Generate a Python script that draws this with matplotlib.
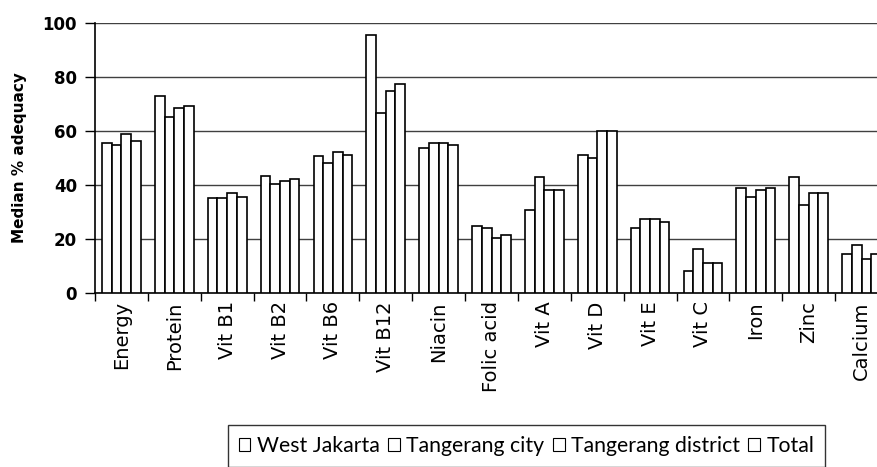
import numpy as np
from matplotlib import pyplot as plt
from matplotlib.patches import Patch

nutrients = ["Energy", "Protein", "Vit B1", "Vit B2", "Vit B6", "Vit B12", "Niacin",
             "Folic acid", "Vit A", "Vit D", "Vit E", "Vit C", "Iron", "Zinc", "Calcium"]
regions = ["West Jakarta", "Tangerang city", "Tangerang district", "Total"]

west_jakarta = [55.7, 73.0, 35.1, 43.5, 50.6, 95.4, 53.8, 24.8, 30.6, 51.2, 24.2, 8.1, 39.0, 42.8, 14.6]
tangerang_city = [54.9, 65.3, 35.1, 40.2, 48.0, 66.5, 55.7, 24.1, 42.8, 49.9, 27.4, 16.4, 35.7, 32.6, 17.7]
tangerang_district = [58.8, 68.4, 37.0, 41.6, 52.3, 74.9, 55.7, 20.2, 38.3, 60.1, 27.4, 11.2, 38.3, 37.0, 12.7]
total = [56.3, 69.1, 35.7, 42.1, 51.2, 77.4, 54.9, 21.6, 38.3, 60.1, 26.2, 11.2, 39.0, 37.0, 14.6]


def main():
  plt.rcParams["font.family"] = ["DejaVu Sans"]
  fig = plt.figure(figsize=(8.78, 4.67), dpi=100)
  # axes runs a little past the right edge, like the original (Calcium is cut off)
  ax = fig.add_axes([95 / 878, 1 - 293 / 467, 793 / 878, 270 / 467])

  series = [west_jakarta, tangerang_city, tangerang_district, total]
  x = np.arange(len(nutrients))
  w = 0.183
  for i, vals in enumerate(series):
    ax.bar(x + (i - 1.5) * w, vals, width=w, color="white",
           edgecolor="black", linewidth=1.2, zorder=3)

  ax.set_xlim(-0.5, len(nutrients) - 0.5)
  ax.set_ylim(0, 100)
  ax.set_yticks([0, 20, 40, 60, 80, 100])
  ax.yaxis.grid(True, color="#404040", linewidth=1.0, zorder=0)
  ax.set_axisbelow(True)

  ax.set_xticks(x)
  ax.set_xticklabels(nutrients, rotation=90, fontsize=14, family="DejaVu Sans")
  ax.set_xticks(np.arange(-0.5, len(nutrients), 1.0), minor=True)
  ax.tick_params(axis="x", which="major", length=0, pad=6)
  ax.tick_params(axis="x", which="minor", length=6, width=1, direction="out")
  ax.tick_params(axis="y", length=7, width=1, direction="out", pad=6)
  for lbl in ax.get_yticklabels():
    lbl.set_fontweight("bold")
    lbl.set_fontsize(12)

  for side in ["top", "right"]:
    ax.spines[side].set_visible(False)
  ax.spines["left"].set_linewidth(1.2)
  ax.spines["bottom"].set_linewidth(1.2)

  ax.set_ylabel("Median % adequacy", fontsize=11, fontweight="bold")
  ax.yaxis.set_label_coords(-68 / 793, 0.5)

  handles = [Patch(facecolor="white", edgecolor="black", linewidth=0.8) for _ in regions]
  leg = fig.legend(handles, regions, loc="center", bbox_to_anchor=(526.5 / 878, 1 - 446 / 467),
                   ncol=4, frameon=True, fancybox=False,
                   prop={"family": ["Lato", "DejaVu Sans"], "size": 15.3},
                   handlelength=0.55, handleheight=0.55, handletextpad=0.3,
                   columnspacing=0.4, borderpad=0.5, borderaxespad=0)
  leg.get_frame().set_edgecolor("black")
  leg.get_frame().set_linewidth(1.0)

  fig.savefig("out.png", dpi=100)


if __name__ == "__main__":
  main()
